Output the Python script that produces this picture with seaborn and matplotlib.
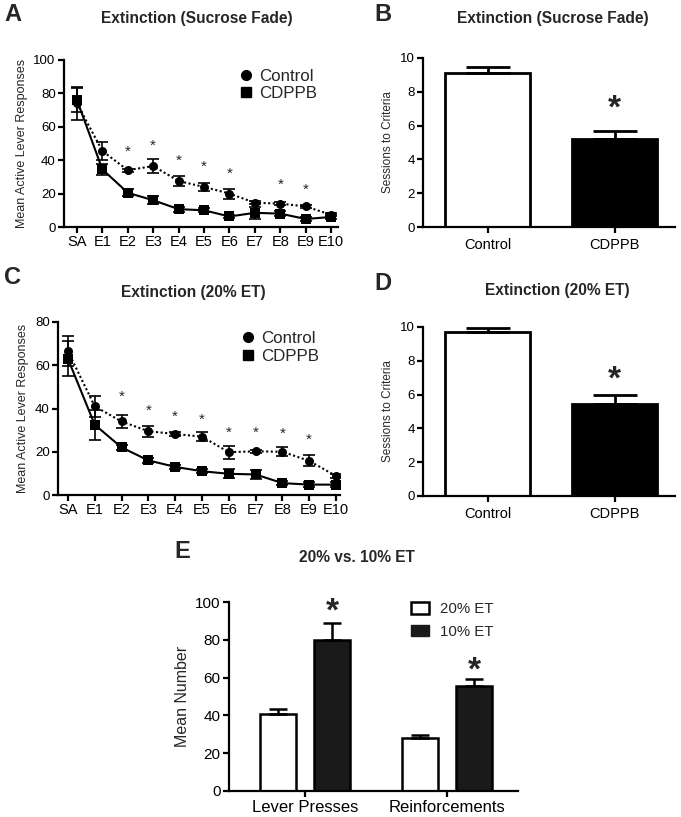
import numpy as np
import pandas as pd
import seaborn as sns
import matplotlib.pyplot as plt
from matplotlib.lines import Line2D
from matplotlib.patches import Patch

sessions = ['SA', 'E1', 'E2', 'E3', 'E4', 'E5', 'E6', 'E7', 'E8', 'E9', 'E10']

# Panel A - extinction after sucrose fade
a_control = [74, 45.5, 34, 36.5, 27.5, 24, 20, 14.5, 14, 12.3, 7.3]
a_control_err = [10, 5.5, 1, 4, 3, 2.5, 3, 1, 1, 1, 0.8]
a_cdppb = [76, 34.5, 20.5, 16, 10.7, 10, 6.3, 8.5, 8, 4.8, 6]
a_cdppb_err = [7, 3.5, 2, 2.5, 1.5, 1.2, 1, 3.5, 1.5, 1, 1.2]
a_star_sessions = ['E2', 'E3', 'E4', 'E5', 'E6', 'E8', 'E9']
a_star_y = [45, 48.5, 39.5, 36, 32, 25, 22.2]

# Panel C - extinction after 20% ET
c_control = [66.5, 41, 34, 29.5, 28.2, 27, 19.8, 20.2, 20, 15.8, 8.8]
c_control_err = [7, 5, 3, 2.5, 0.8, 2, 3, 0.8, 2, 2.5, 1]
c_cdppb = [63, 32.5, 22, 16, 13, 11, 9.8, 9.5, 5.5, 4.8, 4.8]
c_cdppb_err = [8, 7, 1, 1, 1, 1, 2, 2, 1, 1, 1]
c_star_sessions = ['E2', 'E3', 'E4', 'E5', 'E6', 'E7', 'E8', 'E9']
c_star_y = [45.2, 39, 36.4, 34.9, 29, 28.7, 28.4, 25.7]

# Panels B and D - sessions to criteria
groups = ['Control', 'CDPPB']
b_sessions = [9.1, 5.2]
b_err = [0.35, 0.5]
b_star_y = 6.95
d_sessions = [9.7, 5.45]
d_err = [0.25, 0.5]
d_star_y = 6.85

# Panel E - 20% vs 10% ET
measures = ['Lever Presses', 'Reinforcements']
conc = ['20% ET', '10% ET']
e_20 = [40.5, 28.3]
e_20_err = [3, 1.5]
e_10 = [80, 55.7]
e_10_err = [8.7, 3.3]
e_star_y = [94.7, 63.5]

sns.set_style('ticks')
plt.rcParams['font.family'] = ['Liberation Sans', 'DejaVu Sans']
plt.rcParams['axes.linewidth'] = 1.6
plt.rcParams['xtick.major.width'] = 1.6
plt.rcParams['ytick.major.width'] = 1.6
plt.rcParams['xtick.color'] = 'black'
plt.rcParams['ytick.color'] = 'black'

W, H = 681, 817
fig = plt.figure(figsize=(W / 100, H / 100), dpi=100)


def px_axes(l, t, r, b):
    return fig.add_axes([l / W, 1 - b / H, (r - l) / W, (b - t) / H])


def style_axes(ax):
    sns.despine(ax=ax)
    for s in ['left', 'bottom']:
        ax.spines[s].set_color('black')
    ax.tick_params(axis='both', length=4, labelsize=9.5, pad=2)


def line_panel(ax, ctrl, ctrl_err, cdppb, cdppb_err, star_sess, star_y, ymax, ystep, xlim,
               leg_y, leg_space):
    x = np.arange(len(sessions))
    df = pd.DataFrame({
        'x': np.concatenate([x, x]),
        'y': ctrl + cdppb,
        'group': ['Control'] * len(x) + ['CDPPB'] * len(x),
    })
    sns.lineplot(data=df, x='x', y='y', hue='group', style='group',
                 palette={'Control': 'black', 'CDPPB': 'black'},
                 markers={'Control': 'o', 'CDPPB': 's'},
                 dashes={'Control': (1, 1.2), 'CDPPB': ''},
                 markersize=6.5, linewidth=1.5, markeredgewidth=0,
                 legend=False, ax=ax)
    ax.errorbar(x, ctrl, yerr=ctrl_err, fmt='none', ecolor='black',
                capsize=4, elinewidth=1.2, capthick=1.2)
    ax.errorbar(x, cdppb, yerr=cdppb_err, fmt='none', ecolor='black',
                capsize=4, elinewidth=1.2, capthick=1.2)
    for s, yv in zip(star_sess, star_y):
        ax.text(sessions.index(s), yv, '*', ha='center', va='center', fontsize=11)
    ax.set_xticks(x)
    ax.set_xticklabels(sessions)
    ax.set_xlim(*xlim)
    ax.set_ylim(0, ymax)
    ax.set_yticks(np.arange(0, ymax + 1, ystep))
    ax.set_xlabel('')
    ax.set_ylabel('Mean Active Lever Responses', fontsize=9)
    style_axes(ax)
    ax.tick_params(axis='x', labelsize=10.5)
    handles = [Line2D([], [], marker='o', color='black', linestyle='none', markersize=7),
               Line2D([], [], marker='s', color='black', linestyle='none', markersize=6.5)]
    ax.legend(handles, ['Control', 'CDPPB'], loc='upper right', bbox_to_anchor=(0.95, leg_y),
              frameon=False, fontsize=12.2, handlelength=0.8, handletextpad=0.4,
              labelspacing=leg_space, borderaxespad=0)


def bar_panel(ax, vals, errs, star_y):
    df = pd.DataFrame({'group': groups, 'value': vals})
    sns.barplot(data=df, x='group', y='value', hue='group',
                palette={'Control': 'white', 'CDPPB': 'black'},
                edgecolor='black', linewidth=2, width=0.67, errorbar=None,
                legend=False, ax=ax)
    ax.errorbar(range(len(groups)), vals, yerr=[[0] * len(errs), errs], fmt='none',
                ecolor='black', capsize=16, elinewidth=2, capthick=2)
    ax.text(1, star_y, '*', ha='center', va='center', fontsize=24, fontweight='bold')
    ax.set_xlim(-0.508, 1.476)
    ax.set_ylim(0, 10)
    ax.set_yticks([0, 2, 4, 6, 8, 10])
    ax.set_xlabel('')
    ax.set_ylabel('Sessions to Criteria', fontsize=8.5)
    style_axes(ax)
    ax.tick_params(axis='x', labelsize=10.5, pad=4)


axA = px_axes(64, 60, 338, 227)
line_panel(axA, a_control, a_control_err, a_cdppb, a_cdppb_err,
           a_star_sessions, a_star_y, 100, 20, (-0.51, 10.27), 0.985, 0.1)

axC = px_axes(58, 322, 340, 495)
line_panel(axC, c_control, c_control_err, c_cdppb, c_cdppb_err,
           c_star_sessions, c_star_y, 80, 20, (-0.37, 10.15), 0.99, 0.2)

axB = px_axes(423, 58, 675, 227)
bar_panel(axB, b_sessions, b_err, b_star_y)

axD = px_axes(423, 327, 675, 496)
bar_panel(axD, d_sessions, d_err, d_star_y)

# Panel E
axE = px_axes(229, 602, 518, 791)
dfE = pd.DataFrame({
    'measure': measures * 2,
    'value': e_20 + e_10,
    'conc': [conc[0]] * 2 + [conc[1]] * 2,
})
sns.barplot(data=dfE, x='measure', y='value', hue='conc', hue_order=conc,
            palette={conc[0]: 'white', conc[1]: '#1a1a1a'},
            edgecolor='black', linewidth=1.8, width=0.76, gap=0.32,
            errorbar=None, legend=False, ax=axE)
e_errs = e_20_err + e_10_err
bars = axE.patches[:4]
for bar, err in zip(bars, e_errs):
    xc = bar.get_x() + bar.get_width() / 2
    axE.errorbar([xc], [bar.get_height()], yerr=[[0], [err]], fmt='none',
                 ecolor='black', capsize=6.5, elinewidth=1.8, capthick=1.8)
for bar, yv in zip(bars[2:], e_star_y):
    axE.text(bar.get_x() + bar.get_width() / 2, yv, '*', ha='center', va='center',
             fontsize=24, fontweight='bold')
axE.set_xlim(-0.535, 1.5)
axE.set_ylim(0, 100)
axE.set_yticks(np.arange(0, 101, 20))
axE.set_xlabel('')
axE.set_ylabel('Mean Number', fontsize=11.5)
style_axes(axE)
axE.tick_params(axis='y', labelsize=11)
axE.tick_params(axis='x', labelsize=12, pad=2.5)
axE.legend([Patch(facecolor='white', edgecolor='black', linewidth=1.8),
            Patch(facecolor='#1a1a1a', edgecolor='#1a1a1a')], conc,
           loc='upper left', bbox_to_anchor=(0.61, 1.03), frameon=False, fontsize=10.8,
           handlelength=1.2, handleheight=0.8, handletextpad=0.7, labelspacing=0.55,
           borderaxespad=0)

# titles and panel letters
titles = [
    ('A', 4, 3, 'Extinction (Sucrose Fade)', 197, 18),
    ('B', 374, 3, 'Extinction (Sucrose Fade)', 553, 18),
    ('C', 4, 266, 'Extinction (20% ET)', 193, 292),
    ('D', 374, 272, 'Extinction (20% ET)', 557, 290),
    ('E', 174, 540, '20% vs. 10% ET', 357, 558),
]
for letter, lx, ly, title, tx, ty in titles:
    fig.text(lx / W, 1 - ly / H, letter, fontsize=17, fontweight='bold', ha='left', va='top')
    fig.text(tx / W, 1 - ty / H, title, fontsize=11.2, fontweight='bold', ha='center', va='center')

fig.savefig('out.png', dpi=100)
